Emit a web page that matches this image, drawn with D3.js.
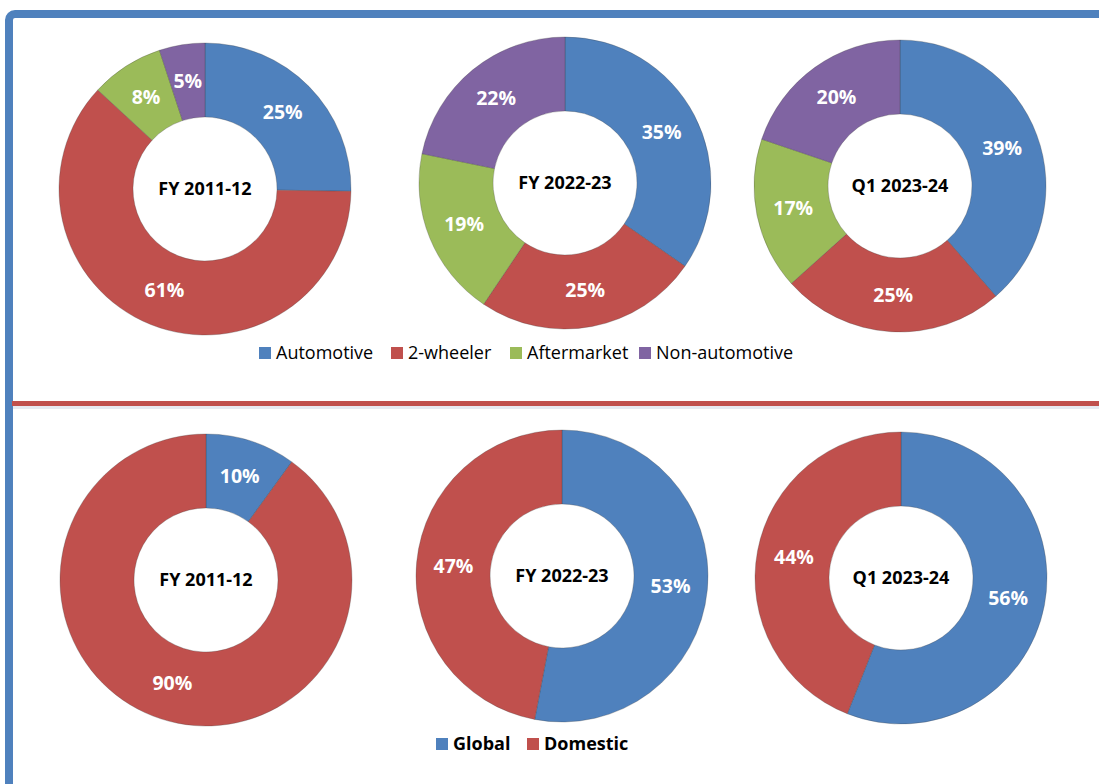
<!DOCTYPE html>
<html>
<head>
<meta charset="utf-8">
<script src="https://cdn.jsdelivr.net/npm/d3@7"></script>
<style>
  body { margin: 0; background: #fff; }
  svg { display: block; }
</style>
</head>
<body>
<svg id="chart"></svg>
<script>
// *********************************************
// DATA
// *********************************************
var segments = ["Automotive", "2-wheeler", "Aftermarket", "Non-automotive"];
var segColors = ["#4f81bd", "#c0504d", "#9bbb59", "#8064a2"];
var segPeriods = ["FY 2011-12", "FY 2022-23", "Q1 2023-24"];
var segValues = [
  [25, 61, 8, 5],
  [35, 25, 19, 22],
  [39, 25, 17, 20]
];

var markets = ["Global", "Domestic"];
var mktColors = ["#4f81bd", "#c0504d"];
var mktPeriods = ["FY 2011-12", "FY 2022-23", "Q1 2023-24"];
var mktValues = [
  [10, 90],
  [53, 47],
  [56, 44]
];

// *********************************************
// SETUP
// *********************************************
var width = 1099,
    height = 784;

var svg = d3.select("#chart")
    .attr("width", width)
    .attr("height", height);

var font = "'Open Sans', 'Noto Sans', sans-serif";

// frame: blue border on top/left, red divider
svg.append("rect")
    .attr("x", 9).attr("y", 14)
    .attr("width", width + 40).attr("height", height + 40)
    .attr("rx", 6)
    .attr("fill", "none")
    .attr("stroke", "#4f81bd")
    .attr("stroke-width", 8);

svg.append("rect")
    .attr("x", 13).attr("y", 406)
    .attr("width", width).attr("height", 3)
    .attr("fill", "#e6eaf2");
svg.append("line")
    .attr("x1", 12).attr("x2", width)
    .attr("y1", 403.5).attr("y2", 403.5)
    .attr("stroke", "#c0504d")
    .attr("stroke-width", 5);

var pie = d3.pie().sort(null).value(d => d);

// *********************************************
// DONUT FUNCTION
// *********************************************
function drawDonut(cx, cy, rOut, rIn, values, colors, title) {
  var arc = d3.arc().innerRadius(rIn).outerRadius(rOut);
  var g = svg.append("g")
      .attr("transform", "translate(" + cx + "," + cy + ")");

  var arcs = pie(values);

  g.selectAll("path")
      .data(arcs)
      .enter().append("path")
      .attr("d", arc)
      .attr("fill", (d, i) => colors[i])
      .attr("stroke", "rgba(60,60,60,0.35)")
      .attr("stroke-width", 0.8);

  g.selectAll("text.pct")
      .data(arcs)
      .enter().append("text")
      .attr("class", "pct")
      .attr("transform", d => "translate(" + arc.centroid(d) + ")")
      .attr("text-anchor", "middle")
      .attr("dy", "0.35em")
      .attr("fill", "#fff")
      .attr("font-family", font)
      .attr("font-weight", "bold")
      .attr("font-size", 19.5)
      .text(d => d.data + "%");

  g.append("text")
      .attr("text-anchor", "middle")
      .attr("dy", "0.35em")
      .attr("fill", "#000")
      .attr("font-family", font)
      .attr("font-weight", "bold")
      .attr("font-size", 18)
      .text(title);
}

function drawLegend(x0, y, names, colors, positions, bold, size) {
  var lg = svg.append("g").attr("transform", "translate(" + x0 + "," + y + ")");
  names.forEach(function(n, i) {
    lg.append("rect")
        .attr("x", positions[i]).attr("y", -6)
        .attr("width", 12).attr("height", 12)
        .attr("fill", colors[i]);
    lg.append("text")
        .attr("x", positions[i] + 17)
        .attr("dy", "0.35em")
        .attr("font-family", font)
        .attr("font-weight", bold ? "bold" : "normal")
        .attr("font-size", size)
        .attr("fill", "#000")
        .text(n);
  });
}

// *********************************************
// DRAW
// *********************************************
var topCenters = [[205, 189], [565, 183], [900, 186]];
var botCenters = [[206, 580], [562, 576], [901, 578]];

segValues.forEach(function(v, i) {
  drawDonut(topCenters[i][0], topCenters[i][1], 146, 72, v, segColors, segPeriods[i]);
});
mktValues.forEach(function(v, i) {
  drawDonut(botCenters[i][0], botCenters[i][1], 146, 72, v, mktColors, mktPeriods[i]);
});

drawLegend(0, 353, segments, segColors, [259, 391, 510, 639], false, 18);
drawLegend(0, 744, markets, mktColors, [436, 527], true, 18);
</script>
</body>
</html>
